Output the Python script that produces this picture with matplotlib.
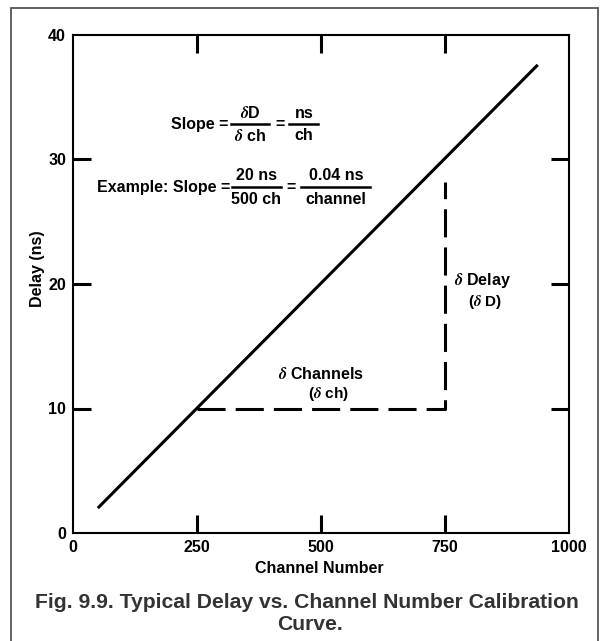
import matplotlib.pyplot as plt
from matplotlib.patches import Rectangle
from matplotlib.lines import Line2D

plt.rcParams['font.family'] = ['Liberation Sans', 'DejaVu Sans']
plt.rcParams['font.weight'] = 'bold'
plt.rcParams['mathtext.fontset'] = 'stix'

# calibration line and the slope triangle
channel = [50, 937]
delay = [2.0, 37.6]
tri_x = [250, 750, 750]
tri_y = [10, 10, 28.2]
xticks = [0, 250, 500, 750, 1000]
yticks = [0, 10, 20, 30, 40]

W, H = 601, 641
FS = 11.5
fig = plt.figure(figsize=(W / 100, H / 100), dpi=100)

def fx(x):
    return x / W

def fy(y):
    return 1 - y / H

# outer frame
fig.patches.append(Rectangle((fx(11), fy(660)), fx(587), (660 - 8) / H,
                             transform=fig.transFigure, fill=False,
                             ec='#555555', lw=1.3))

ax = fig.add_axes([fx(73), fy(533), fx(569 - 73), (533 - 35) / H])
ax.plot(channel, delay, color='black', lw=2.2, solid_capstyle='butt')
ax.plot(tri_x, tri_y, color='black', lw=2.2, ls=(0, (9.2, 3.3)))
ax.set_xlim(0, 1000)
ax.set_ylim(0, 40)
for s in ax.spines.values():
    s.set_linewidth(1.5)

ax.set_xticks(xticks)
ax.set_yticks(yticks)
ax.set_xticklabels([str(v) for v in xticks], fontsize=FS, fontweight='bold')
ax.set_yticklabels([str(v) for v in yticks], fontsize=FS, fontweight='bold')
ax.tick_params(direction='in', length=13, width=2.2, top=True, right=True,
               pad=5)
# no tick marks at the corners, labels stay
for t in ax.xaxis.get_major_ticks():
    if t.get_loc() in (0, 1000):
        t.tick1line.set_visible(False)
        t.tick2line.set_visible(False)
for t in ax.yaxis.get_major_ticks():
    if t.get_loc() in (0, 40):
        t.tick1line.set_visible(False)
        t.tick2line.set_visible(False)
ax.set_xlabel('Channel Number', fontsize=FS, fontweight='bold')
ax.set_ylabel('Delay (ns)', fontsize=FS, fontweight='bold')
ax.xaxis.set_label_coords(0.497, -0.057)
ax.yaxis.set_label_coords(-0.057, 0.53)

def txt(x, y, s, ha='center', size=FS):
    fig.text(fx(x), fy(y), s, ha=ha, va='center', fontsize=size,
             fontweight='bold')

def bar(x0, x1, y):
    fig.add_artist(Line2D([fx(x0), fx(x1)], [fy(y), fy(y)],
                          transform=fig.transFigure, color='black', lw=1.8))

# slope formula
txt(228, 125, 'Slope =', ha='right')
bar(231, 269, 124)
txt(250, 113, r'$\delta$D')
txt(250, 136, r'$\delta$ ch')
txt(280, 125, '=')
bar(289, 318, 124)
txt(304, 113, 'ns')
txt(304, 136, 'ch')

txt(230, 188, 'Example: Slope =', ha='right')
bar(232, 281, 187)
txt(256, 176, '20 ns')
txt(256, 199, '500 ch')
txt(291, 188, '=')
bar(301, 370, 187)
txt(336, 176, '0.04 ns')
txt(336, 199, 'channel')

# triangle labels
txt(483, 281, r'$\delta$ Delay')
txt(485, 302, r'($\delta$ D)', size=11)
txt(321, 374, r'$\delta$ Channels')
txt(329, 394, r'($\delta$ ch)', size=11)

# caption
fig.text(fx(307), fy(602), 'Fig. 9.9. Typical Delay vs. Channel Number Calibration',
         ha='center', va='center', fontsize=15.2, fontweight='bold', color='#333333')
fig.text(fx(310), fy(625), 'Curve.', ha='center', va='center', fontsize=15.2,
         fontweight='bold', color='#333333')

fig.savefig('out.png', dpi=100)
plt.close(fig)
